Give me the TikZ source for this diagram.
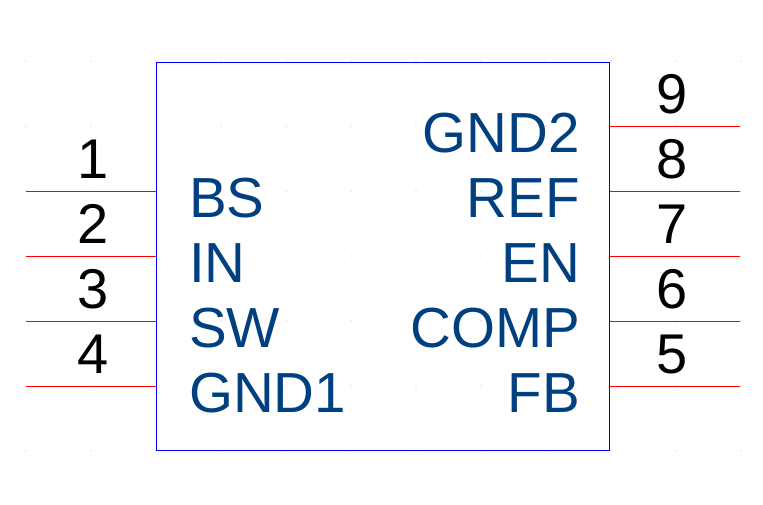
\documentclass[tikz,border=0pt]{standalone}
\usepackage{fontspec}
\setmainfont{Liberation Sans}
\definecolor{lblblue}{RGB}{0,63,128}
\definecolor{gridgray}{RGB}{190,190,190}
\tikzset{
  chip/.style={draw=blue, line width=1pt, minimum width=453pt, minimum height=388pt, inner sep=0pt},
  pin/.style={draw=red, line width=1pt},
  pinnum/.style={anchor=base, inner sep=0pt, font=\fontsize{56}{60}\selectfont, text=black},
  lblL/.style={anchor=base west, inner sep=0pt, font=\fontsize{56.5}{60}\selectfont, text=lblblue},
  lblR/.style={anchor=base east, inner sep=0pt, font=\fontsize{56.5}{60}\selectfont, text=lblblue},
}
\begin{document}
\begin{tikzpicture}[x=1pt,y=-1pt]
\fill[white] (0,0) rectangle (763,504);
\useasboundingbox (0,0) rectangle (763,504);
\foreach \gx in {26,91,...,741} {
  \foreach \gy in {61,126,...,451} {
    \fill[gridgray] (\gx,\gy) circle (0.7pt);
  }
}
\node[chip] (U) at (382.5,256) {};
% left pins
\coordinate (p1) at (26,191);
\coordinate (p2) at (26,256);
\coordinate (p3) at (26,321);
\coordinate (p4) at (26,386);
% right pins
\coordinate (p9) at (740,126);
\coordinate (p8) at (740,191);
\coordinate (p7) at (740,256);
\coordinate (p6) at (740,321);
\coordinate (p5) at (740,386);
\foreach \p in {p1,p2,p3,p4} { \draw[pin] (\p) -- (\p -| U.west); }
\foreach \p in {p5,p6,p7,p8,p9} { \draw[pin] (U.east |- \p) -- (\p); }
% pin numbers
\node[pinnum] (n1) at (93,178) {1};
\node[pinnum] (n2) at (93,243) {2};
\node[pinnum] (n3) at (93,308) {3};
\node[pinnum] (n4) at (93,373) {4};
\node[pinnum] (n9) at (672,113) {9};
\node[pinnum] (n8) at (672,178) {8};
\node[pinnum] (n7) at (672,243) {7};
\node[pinnum] (n6) at (672,308) {6};
\node[pinnum] (n5) at (672,373) {5};
% labels
\node[lblL] (lBS) at (189,217) {BS};
\node[lblL] (lIN) at (189,282) {IN};
\node[lblL] (lSW) at (189,347) {SW};
\node[lblL] (lG1) at (189,412) {GND1};
\node[lblR] (lG2) at (580,152) {GND2};
\node[lblR] (lREF) at (580,217) {REF};
\node[lblR] (lEN) at (580,282) {EN};
\node[lblR] (lCOMP) at (580,347) {COMP};
\node[lblR] (lFB) at (580,412) {FB};
\end{tikzpicture}
\end{document}
